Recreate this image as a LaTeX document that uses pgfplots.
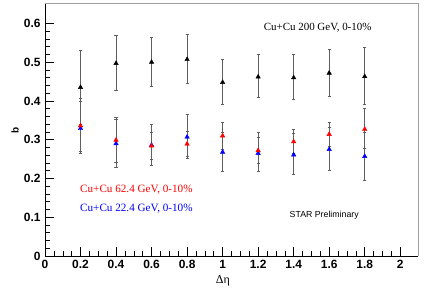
\documentclass[border=0pt]{standalone}
\usepackage{pgfplots}
\pgfplotsset{compat=1.18}
\usepackage{fontspec}
\setmainfont{Liberation Sans}
\newfontfamily\serifm{Liberation Serif}
\definecolor{errgray}{RGB}{95,95,95}
\definecolor{framegray}{RGB}{160,160,160}
\definecolor{rred}{RGB}{255,0,0}
\definecolor{rblue}{RGB}{0,0,255}

\pgfplotstableread{
x y ep em
0.2 0.435 0.096 0.096
0.4 0.497 0.071 0.070
0.6 0.500 0.065 0.062
0.8 0.507 0.064 0.062
1.0 0.448 0.060 0.057
1.2 0.462 0.058 0.052
1.4 0.460 0.061 0.055
1.6 0.472 0.061 0.060
1.8 0.463 0.075 0.071
}\blackdata

\pgfplotstableread{
x y ep em
0.2 0.336 0.070 0.066
0.4 0.299 0.058 0.057
0.6 0.284 0.035 0.034
0.8 0.289 0.033 0.032
1.0 0.310 0.035 0.035
1.2 0.272 0.035 0.033
1.4 0.295 0.031 0.031
1.6 0.314 0.031 0.031
1.8 0.327 0.054 0.050
}\reddata

\pgfplotstableread{
x y ep em
0.2 0.329 0.069 0.065
0.4 0.290 0.062 0.062
0.6 0.286 0.054 0.052
0.8 0.307 0.058 0.055
1.0 0.268 0.051 0.049
1.2 0.265 0.054 0.046
1.4 0.261 0.055 0.049
1.6 0.275 0.056 0.054
1.8 0.257 0.063 0.063
}\bluedata

\begin{document}
\begin{tikzpicture}
\useasboundingbox (0,0) rectangle (436bp,293bp);
\begin{axis}[
  at={(45bp,37bp)}, anchor=south west,
  scale only axis,
  width=373bp, height=252bp,
  xmin=0, xmax=2.1, ymin=0, ymax=0.65,
  axis x line*=bottom, axis y line*=left,
  axis line style={black, line width=0.6pt},
  xtick={0,0.2,...,2.0},
  xticklabels={0,0.2,0.4,0.6,0.8,1,1.2,1.4,1.6,1.8,2},
  ytick={0,0.1,...,0.6},
  yticklabels={0,0.1,0.2,0.3,0.4,0.5,0.6},
  minor x tick num=3,
  minor y tick num=4,
  tick align=inside,
  major tick length=9bp,
  minor tick length=4.5bp,
  tick style={black, line width=0.5pt},
  ticklabel style={font=\fontsize{12}{14}\selectfont\bfseries},
  xticklabel style={yshift=-1bp},
  yticklabel style={xshift=-1bp},
  xlabel={Δη},
  ylabel={b},
  xlabel style={font=\serifm\fontsize{12}{14}\selectfont, at={(axis description cs:0.477,0)}, anchor=center, yshift=-25bp},
  ylabel style={font=\fontsize{10}{12}\selectfont\bfseries, at={(axis description cs:-0.08,0.5)}, anchor=center},
  clip=false,
  error bars/error bar style={errgray, line width=0.7pt},
  error bars/error mark options={errgray, mark size=1.6pt, line width=0.6pt, rotate=90},
]
\draw[framegray, line width=1pt] (rel axis cs:0,1) -- (rel axis cs:1,1) -- (rel axis cs:1,0);

\addplot[only marks, mark=triangle*, mark size=2.6pt, color=black,
  error bars/.cd, y dir=both, y explicit]
  table[x=x, y=y, y error plus=ep, y error minus=em] {\blackdata};
\addplot[only marks, mark=triangle*, mark size=2.6pt, color=rblue,
  error bars/.cd, y dir=both, y explicit]
  table[x=x, y=y, y error plus=ep, y error minus=em] {\bluedata};
\addplot[only marks, mark=triangle*, mark size=2.6pt, color=rred,
  error bars/.cd, y dir=both, y explicit]
  table[x=x, y=y, y error plus=ep, y error minus=em] {\reddata};

\node[font=\serifm\fontsize{11}{13}\selectfont, anchor=center] at (axis cs:1.535,0.588) {Cu+Cu 200 GeV, 0-10\%};
\node[font=\serifm\fontsize{11.2}{13}\selectfont, anchor=west, inner sep=0pt, text=rred] at (axis cs:0.197,0.170) {Cu+Cu 62.4 GeV, 0-10\%};
\node[font=\serifm\fontsize{11.2}{13}\selectfont, anchor=west, inner sep=0pt, text=rblue] at (axis cs:0.197,0.121) {Cu+Cu 22.4 GeV, 0-10\%};
\node[font=\fontsize{8.8}{10}\selectfont, anchor=center] at (axis cs:1.572,0.104) {STAR Preliminary};
\end{axis}
\end{tikzpicture}
\end{document}
